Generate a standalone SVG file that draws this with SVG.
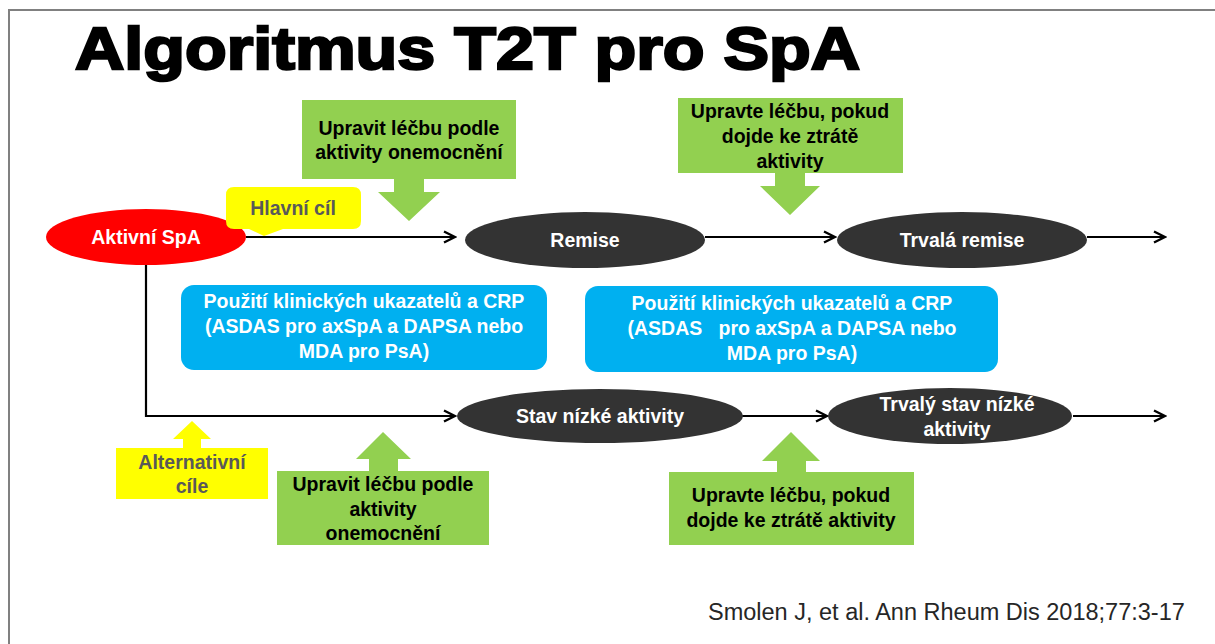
<svg xmlns="http://www.w3.org/2000/svg" width="1215" height="644" viewBox="0 0 1215 644">
  <defs>
    <marker id="arrow" viewBox="0 0 14 14" refX="12.5" refY="7" markerWidth="14" markerHeight="14" markerUnits="userSpaceOnUse" orient="auto">
      <path d="M1.5,1.5 L12.5,7 L1.5,12.5" fill="none" stroke="#000" stroke-width="2.4" stroke-linejoin="miter"/>
    </marker>
    <style>
      .t { font-family: "Liberation Sans", Arial, sans-serif; font-weight: bold; text-anchor: middle; }
      .w { fill: #ffffff; font-size: 19.5px; }
      .k { fill: #000000; font-size: 19.5px; }
      .g { fill: #595959; font-size: 19.5px; }
      .red { fill: #ff0000; }
      .dark { fill: #333333; }
      .green { fill: #92d050; }
      .yellow { fill: #ffff00; }
      .blue { fill: #00b0f0; }
      .line { fill: none; stroke: #000; stroke-width: 2.2; }
    </style>
  </defs>

  <rect width="1215" height="644" fill="#ffffff"/>
  <!-- slide frame -->
  <path d="M9,644 V10 H1215" fill="none" stroke="#808080" stroke-width="2"/>

  <!-- title -->
  <text x="75" y="69" font-family="'Liberation Sans', Arial, sans-serif" font-weight="bold" font-size="60" fill="#000" stroke="#000" stroke-width="2.4" textLength="785" lengthAdjust="spacingAndGlyphs">Algoritmus T2T pro SpA</text>

  <!-- connectors -->
  <g id="connectors">
    <line class="line" x1="246" y1="237" x2="455" y2="237" marker-end="url(#arrow)"/>
    <line class="line" x1="705" y1="237" x2="835" y2="237" marker-end="url(#arrow)"/>
    <line class="line" x1="1087" y1="237" x2="1165" y2="237" marker-end="url(#arrow)"/>
    <polyline class="line" points="146,265 146,416 455,416" marker-end="url(#arrow)"/>
    <line class="line" x1="742" y1="416" x2="827" y2="416" marker-end="url(#arrow)"/>
    <line class="line" x1="1073" y1="416" x2="1165" y2="416" marker-end="url(#arrow)"/>
  </g>

  <!-- states -->
  <g id="aktivni-spa">
    <ellipse class="red" cx="146" cy="237" rx="100" ry="28"/>
    <text class="t w" x="146" y="244">Aktivní SpA</text>
  </g>
  <g id="remise">
    <ellipse class="dark" cx="585" cy="240" rx="120" ry="28"/>
    <text class="t w" x="585" y="247">Remise</text>
  </g>
  <g id="trvala-remise">
    <ellipse class="dark" cx="962" cy="240" rx="125" ry="28"/>
    <text class="t w" x="962" y="247">Trvalá remise</text>
  </g>
  <g id="stav-nizke-aktivity">
    <ellipse class="dark" cx="600" cy="416" rx="143" ry="27"/>
    <text class="t w" x="600" y="423">Stav nízké aktivity</text>
  </g>
  <g id="trvaly-stav">
    <ellipse class="dark" cx="950" cy="416" rx="122" ry="28"/>
    <text class="t w" x="957" y="411">Trvalý stav nízké</text>
    <text class="t w" x="957" y="436">aktivity</text>
  </g>

  <!-- goal labels -->
  <g id="hlavni-cil">
    <path class="yellow" d="M234,187 H353 Q361,187 361,195 V221 Q361,229 353,229 H283 L264,236 L249,229 H234 Q226,229 226,221 V195 Q226,187 234,187 Z"/>
    <text class="t g" x="293" y="215">Hlavní cíl</text>
  </g>
  <g id="alternativni-cile">
    <path class="yellow" d="M192,421 L211,439 H201 V448 H268 V499 H116 V448 H183 V439 H173 Z"/>
    <text class="t g" x="192" y="469">Alternativní</text>
    <text class="t g" x="192" y="493">cíle</text>
  </g>

  <!-- treatment adjustment callouts -->
  <g id="upravit-horni">
    <path class="green" d="M302,100 H516 V179 H424 V192 H440 L409,221 L378,192 H394 V179 H302 Z"/>
    <text class="t k" x="409" y="135">Upravit léčbu podle</text>
    <text class="t k" x="409" y="159">aktivity onemocnění</text>
  </g>
  <g id="upravte-horni">
    <path class="green" d="M678,98 H903 V173 H805 V186 H820 L790,215 L760,186 H775 V173 H678 Z"/>
    <text class="t k" x="790" y="118">Upravte léčbu, pokud</text>
    <text class="t k" x="790" y="143">dojde ke ztrátě</text>
    <text class="t k" x="790" y="168">aktivity</text>
  </g>
  <g id="upravit-dolni">
    <path class="green" d="M383,432 L411,459 H398 V471 H489 V545 H277 V471 H369 V459 H356 Z"/>
    <text class="t k" x="383" y="491">Upravit léčbu podle</text>
    <text class="t k" x="383" y="516">aktivity</text>
    <text class="t k" x="383" y="540">onemocnění</text>
  </g>
  <g id="upravte-dolni">
    <path class="green" d="M791,432 L820,461 H806 V472 H914 V545 H669 V472 H777 V461 H762 Z"/>
    <text class="t k" x="791" y="502">Upravte léčbu, pokud</text>
    <text class="t k" x="791" y="527">dojde ke ztrátě aktivity</text>
  </g>

  <!-- measurement notes -->
  <g id="ukazatele-levy">
    <rect class="blue" x="181" y="285" width="366" height="85" rx="13"/>
    <text class="t w" x="364" y="308">Použití klinických ukazatelů a CRP</text>
    <text class="t w" x="364" y="333">(ASDAS pro axSpA a DAPSA nebo</text>
    <text class="t w" x="364" y="358">MDA pro PsA)</text>
  </g>
  <g id="ukazatele-pravy">
    <rect class="blue" x="585" y="286" width="413" height="86" rx="13"/>
    <text class="t w" x="792" y="310">Použití klinických ukazatelů a CRP</text>
    <text class="t w" x="792" y="335" xml:space="preserve">(ASDAS   pro axSpA a DAPSA nebo</text>
    <text class="t w" x="792" y="360">MDA pro PsA)</text>
  </g>

  <!-- reference -->
  <text x="708" y="620" font-family="'Liberation Sans', Arial, sans-serif" font-size="23.5" fill="#262626">Smolen J, et al. Ann Rheum Dis 2018;77:3-17</text>
</svg>
